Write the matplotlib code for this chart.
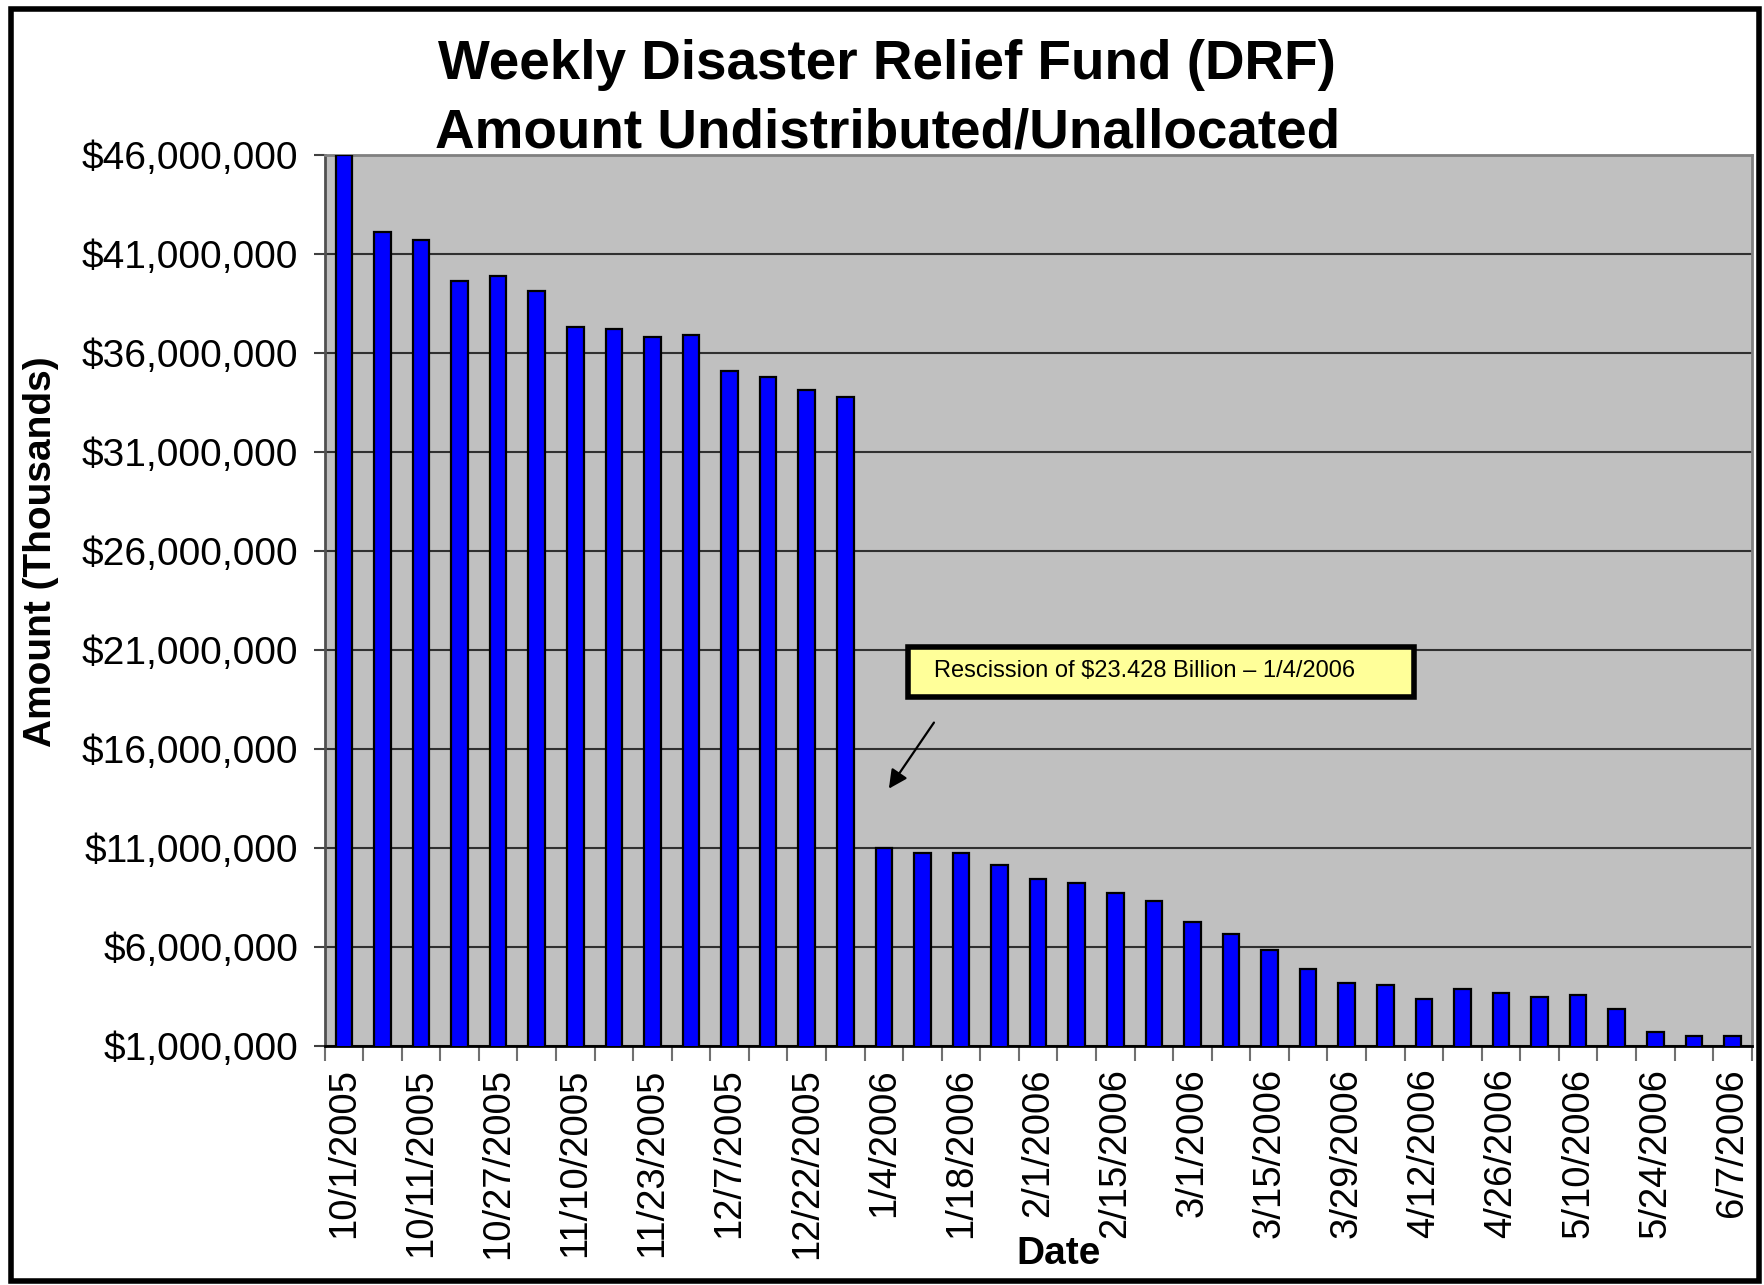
import numpy as np
import matplotlib
matplotlib.use('Agg')
import matplotlib.pyplot as plt
from matplotlib.patches import Rectangle
from matplotlib.ticker import FuncFormatter

plt.rcParams['font.family'] = ['Liberation Sans', 'DejaVu Sans']

# weekly amounts (thousands of dollars), one bar per week
amounts = [46000000, 42130000, 41710000, 39650000, 39870000, 39150000, 37310000,
           37230000, 36820000, 36910000, 35090000, 34790000, 34140000, 33800000,
           11000000, 10750000, 10750000, 10160000, 9430000, 9230000, 8710000,
           8320000, 7250000, 6640000, 5830000, 4900000, 4190000, 4090000,
           3380000, 3890000, 3690000, 3470000, 3570000, 2860000, 1720000,
           1520000, 1520000]

# only every other week is labelled on the axis
date_labels = ['10/1/2005', '10/11/2005', '10/27/2005', '11/10/2005', '11/23/2005',
               '12/7/2005', '12/22/2005', '1/4/2006', '1/18/2006', '2/1/2006',
               '2/15/2006', '3/1/2006', '3/15/2006', '3/29/2006', '4/12/2006',
               '4/26/2006', '5/10/2006', '5/24/2006', '6/7/2006']

y_min, y_max, y_step = 1000000, 46000000, 5000000
note = 'Rescission of $23.428 Billion \u2013 1/4/2006'

fig = plt.figure(figsize=(17.64, 12.85), dpi=100)
ax = fig.add_axes([0.184, 0.186, 0.809, 0.6934])
ax.set_facecolor('#C0C0C0')

x = np.arange(len(amounts))
ax.bar(x, amounts, width=0.43, color='#0000FF', edgecolor='black', linewidth=1.6, zorder=3)

ax.set_xlim(-0.5, len(amounts) - 0.5)
ax.set_ylim(y_min, y_max)
ax.set_yticks(np.arange(y_min, y_max + 1, y_step))
ax.yaxis.set_major_formatter(FuncFormatter(lambda v, p: '${:,.0f}'.format(v)))
ax.grid(axis='y', color='#303030', linewidth=1.5, zorder=1)

ax.set_xticks(x[::2])
ax.set_xticklabels(date_labels, rotation=90, fontsize=27.5)
ax.set_xticks(np.arange(len(amounts) + 1) - 0.5, minor=True)
ax.tick_params(axis='x', which='major', length=0, pad=16)
ax.tick_params(axis='x', which='minor', length=11, width=1.5, color='#707070')
ax.tick_params(axis='y', labelsize=28, length=8, width=1.5, color='#404040', pad=11)

for side in ['top', 'right']:
    ax.spines[side].set_color('#808080')
    ax.spines[side].set_linewidth(2)
ax.spines['left'].set_color('#505050')
ax.spines['left'].set_linewidth(2)
ax.spines['bottom'].set_color('black')
ax.spines['bottom'].set_linewidth(2)

# annotation box with arrow pointing at the drop
ax.add_patch(Rectangle((0.409, 0.392), 0.3544, 0.0557, transform=ax.transAxes,
                       facecolor='#FFFF99', edgecolor='black', linewidth=4, zorder=5))
ax.text(0.427, 0.4205, note, transform=ax.transAxes, fontsize=17,
        ha='left', va='center', zorder=6)
ax.annotate('', xy=(14.09, 13880000), xytext=(15.34, 17450000),
            arrowprops=dict(arrowstyle='-|>', color='black', lw=1.6, mutation_scale=28),
            zorder=6)

fig.text(0.503, 0.9385, 'Weekly Disaster Relief Fund (DRF)', fontsize=39.5,
         fontweight='bold', ha='center', va='baseline')
fig.text(0.503, 0.8856, 'Amount Undistributed/Unallocated', fontsize=39.5,
         fontweight='bold', ha='center', va='baseline')
fig.text(0.023, 0.571, 'Amount (Thousands)', fontsize=28, fontweight='bold',
         rotation=90, ha='center', va='center')
fig.text(0.60, 0.024, 'Date', fontsize=28, fontweight='bold', ha='center', va='center')

# outer frame of the chart
fig.patches.append(Rectangle((0.006, 0.003), 0.991, 0.99, transform=fig.transFigure,
                             fill=False, edgecolor='black', linewidth=4))

fig.savefig('out.png', dpi=100)
